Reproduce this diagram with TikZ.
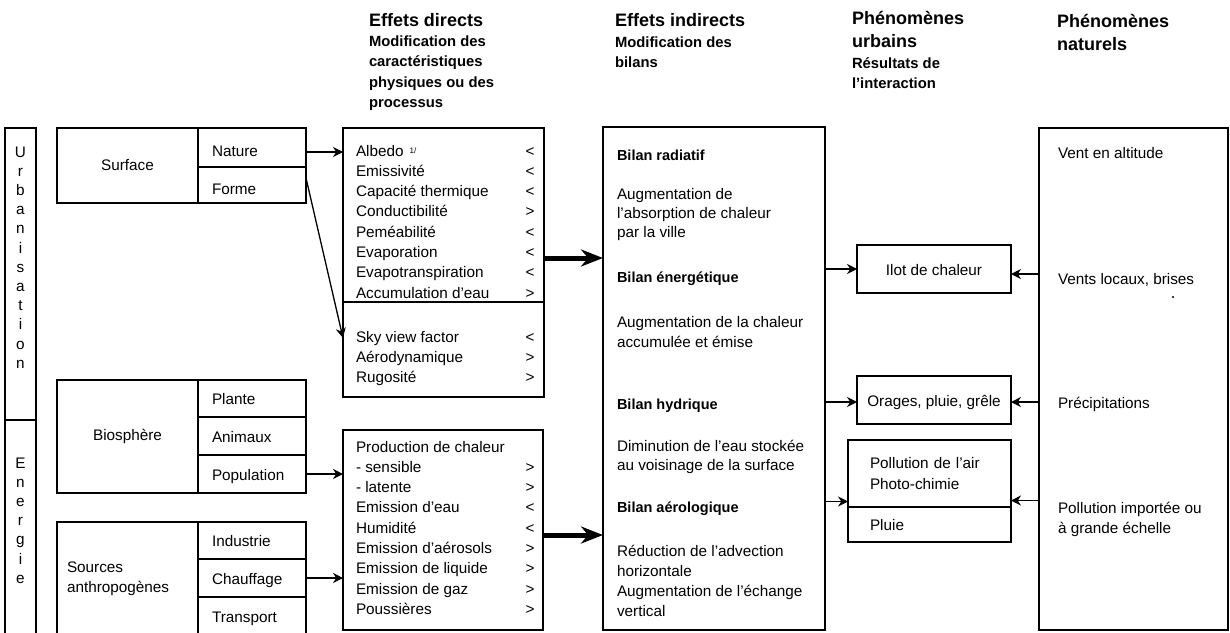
\documentclass[tikz,border=0pt]{standalone}
\usepackage{fontspec}
\setmainfont{Liberation Sans}
\usetikzlibrary{arrows.meta,positioning}

\newcommand\bodyfnt{\fontsize{15.3}{20.3}\selectfont}
\newcommand\ttlfnt{\bfseries\fontsize{18}{23}\selectfont}
\newcommand\subfnt{\bfseries\fontsize{14.8}{20.5}\selectfont}
\newcommand\bilfnt{\bfseries\fontsize{14.5}{20}\selectfont}

\tikzset{
  box/.style={draw, line width=1.8pt, inner sep=0pt, outer sep=0pt, anchor=north west, font=\bodyfnt},
  oneline/.style={text height=13pt, text depth=1pt},
  lowline/.style={text height=19pt, text depth=1pt},
  cell/.style={box, oneline, text width=80pt, inner xsep=14pt, align=left},
  % multi-line texts: placed at the baseline of their last line
  row/.style={anchor=base west, inner sep=0pt, outer sep=0pt, font=\bodyfnt, align=left},
  sign/.style={row, anchor=base, align=center},
  letter/.style={anchor=base, inner sep=0pt, font=\bodyfnt},
  head/.style={row, font=\ttlfnt},
  subhead/.style={row, font=\subfnt},
  bil/.style={row, font=\bilfnt},
  arr/.style={-{Stealth[length=10pt,width=10pt]}, line width=1.3pt},
  bigarr/.style={-{Stealth[length=22pt,width=17pt]}, line width=5pt},
}

\begin{document}
\begin{tikzpicture}[x=1pt,y=-1pt]
\useasboundingbox (0,0) rectangle (1230,632);

% column heads
\node[head]    (h_dir) at (369,26.5)  {Effets directs};
\node[subhead] (s_dir) at (369,107.5) {Modification des\\caractéristiques\\physiques ou des\\processus};
\node[head]    (h_ind) at (615,26.5)  {Effets indirects};
\node[subhead] (s_ind) at (615,67.5)  {Modification des\\bilans};
\node[head]    (h_urb) at (852,47.5)  {Phénomènes\\urbains};
\node[subhead] (s_urb) at (852,88.5)  {Résultats de\\l'interaction};
\node[head]    (h_nat) at (1057,50.5) {Phénomènes\\naturels};

% left bars
\node[box, minimum width=31pt, minimum height=292pt] (urb) at (5,128) {};
\node[box, minimum width=31pt, minimum height=216pt, below=0pt of urb] (energ) {};
\foreach \c [count=\i from 0] in {U,r,b,a,n,i,s,a,t,i,o,n}
  \node[letter] (u_\i) at (20.5,157+19.2*\i) {\c};
\foreach \c [count=\i from 0] in {E,n,e,r,g,i,e}
  \node[letter] (e_\i) at (20.5,468+19.2*\i) {\c};

% causes
\node[box, minimum width=141pt, minimum height=75pt] (surf) at (57,128) {Surface};
\node[cell, lowline, minimum height=39pt] (nature) at (surf.north east) {Nature};
\node[cell, lowline, minimum height=36pt, below=0pt of nature] (forme) {Forme};

\node[box, minimum width=141pt, minimum height=113pt] (bio) at (57,380) {Biosphère};
\node[cell, minimum height=37pt] (plante) at (bio.north east) {Plante};
\node[cell, minimum height=38pt, below=0pt of plante] (animaux) {Animaux};
\node[cell, minimum height=38pt, below=0pt of animaux] (population) {Population};

\node[box, minimum width=141pt, minimum height=114pt, text width=121pt, inner xsep=10pt, align=left] (sources) at (57,522) {Sources\\anthropogènes};
\node[cell, minimum height=37pt] (industrie) at (sources.north east) {Industrie};
\node[cell, minimum height=38pt, below=0pt of industrie] (chauffage) {Chauffage};
\node[cell, minimum height=39pt, below=0pt of chauffage] (transport) {Transport};

% effets directs
\node[box, minimum width=201pt, minimum height=174pt] (dirA) at (343,128) {};
\node[box, minimum width=201pt, minimum height=95pt, below=0pt of dirA] (dirB) {};
\node[box, minimum width=200pt, minimum height=200pt] (dirC) at (343,430) {};

\node[row]  (dirA_txt) at (356,298.1) {Albedo\hspace{6pt}\raisebox{3pt}{\fontsize{8}{8}\selectfont 1/}\\Emissivité\\Capacité thermique\\Conductibilité\\Peméabilité\\Evaporation\\Evapotranspiration\\Accumulation d'eau};
\node[sign] (dirA_sgn) at (530,298.1) {<\\<\\<\\>\\<\\<\\<\\>};
\node[row]  (dirB_txt) at (356,382.6) {Sky view factor\\Aérodynamique\\Rugosité};
\node[sign] (dirB_sgn) at (530,382.6) {<\\>\\>};
\node[row]  (dirC_txt) at (356,614.4) {Production de chaleur\\- sensible\\- latente\\Emission d'eau\\Humidité\\Emission d'aérosols\\Emission de liquide\\Emission de gaz\\Poussières};
\node[sign] (dirC_sgn) at (530,614.4) {>\\>\\<\\<\\>\\>\\>\\>};

% effets indirects
\node[box, minimum width=222pt, minimum height=503pt] (ind) at (603,127) {};
\node[bil] (b_rad) at (617,160) {Bilan radiatif};
\node[row, font=\fontsize{15.3}{19}\selectfont] (t_rad) at (617,237) {Augmentation de\\l'absorption de chaleur\\par la ville};
\node[bil] (b_ener) at (617,282) {Bilan énergétique};
\node[row] (t_ener) at (617,347.3) {Augmentation de la chaleur\\accumulée et émise};
\node[bil] (b_hyd) at (617,409) {Bilan hydrique};
\node[row, font=\fontsize{15.3}{19}\selectfont] (t_hyd) at (617,470) {Diminution de l'eau stockée\\au voisinage de la surface};
\node[bil] (b_aero) at (617,512) {Bilan aérologique};
\node[row] (t_aero) at (617,616.9) {Réduction de l'advection\\horizontale\\Augmentation de l'échange\\vertical};

% phenomenes urbains
\node[box, oneline, minimum width=154pt, minimum height=48pt] (ilot) at (857,245) {Ilot de chaleur};
\node[box, oneline, minimum width=154pt, minimum height=48pt] (orages) at (857,376) {Orages, pluie, grêle};
\node[box, minimum width=163pt, minimum height=67pt, text width=119pt, inner xsep=22pt, align=left] (pollA) at (848,440) {Pollution de l'air\\Photo-chimie};
\node[box, oneline, minimum height=35pt, text width=119pt, inner xsep=22pt, align=left, below=0pt of pollA] (pollB) {Pluie};

% phenomenes naturels
\node[box, minimum width=189pt, minimum height=502pt] (nat) at (1039,128) {};
\node[row] (n_alt) at (1058,158) {Vent en altitude};
\node[row] (n_loc) at (1058,284) {Vents locaux, brises};
\node[row] (n_pre) at (1058,408) {Précipitations};
\node[row, font=\fontsize{15.3}{20}\selectfont] (n_pol) at (1058,533) {Pollution importée ou\\à grande échelle};
\fill (1173,297) circle (1.2pt);

\path[arr]
  ([yshift=-4.5pt]nature.east) edge ([yshift=-4.5pt]nature.east -| dirA.west)
  ([yshift=7pt]forme.east)     edge ([yshift=11.5pt]dirB.west)
  (population.east)            edge (population.east -| dirC.west)
  (chauffage.east)             edge (chauffage.east -| dirC.west)
  (ilot.west -| ind.east)      edge (ilot.west)
  ([yshift=-2pt]orages.west -| ind.east) edge ([yshift=-2pt]orages.west)
  ([yshift=-28pt]pollA.west -| ind.east) edge ([yshift=-28pt]pollA.west)
  ([yshift=-5pt]ilot.east -| nat.west)   edge ([yshift=-5pt]ilot.east)
  ([yshift=-2pt]orages.east -| nat.west) edge ([yshift=-2pt]orages.east)
  ([yshift=-27pt]pollA.east -| nat.west) edge ([yshift=-27pt]pollA.east);
\path[bigarr]
  ([yshift=-43pt]dirA.east) edge ([yshift=-43pt]dirA.east -| ind.west)
  ([yshift=-5pt]dirC.east)  edge ([yshift=-5pt]dirC.east -| ind.west);
\end{tikzpicture}
\end{document}
